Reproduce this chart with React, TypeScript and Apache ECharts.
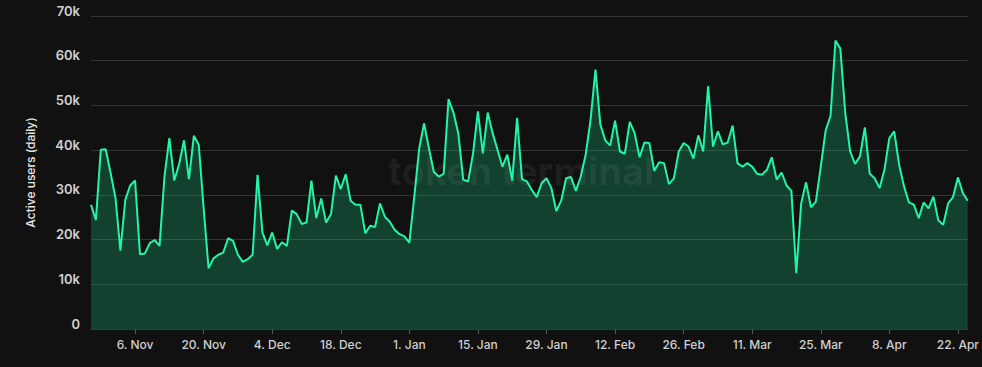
import React, { useEffect, useRef } from "react";
import * as echarts from "echarts";

// Daily active users (thousands), 28 Oct 2023 .. 24 Apr 2024
const START_DATE = "2023-10-28";
const activeUsersK: number[] = [
  27.8, 24.4, 40.1, 40.2, 34.9, 29.3, 17.5, 28.9, 32.1, 33.2,
  16.7, 16.9, 19.2, 19.9, 18.6, 34.1, 42.7, 33.2, 36.9, 42.2,
  33.5, 43.2, 41.2, 27.0, 13.6, 15.8, 16.6, 17.1, 20.3, 19.7,
  16.6, 15.0, 15.6, 16.6, 34.5, 21.6, 18.7, 21.6, 17.9, 19.4,
  18.6, 26.5, 25.7, 23.5, 23.8, 33.2, 24.8, 29.2, 23.8, 25.7,
  34.3, 31.3, 34.6, 28.7, 27.8, 27.8, 21.4, 23.1, 22.8, 28.1,
  25.1, 24.0, 22.2, 21.2, 20.7, 19.3, 29.5, 40.3, 46.0, 40.4,
  35.1, 34.1, 34.7, 51.4, 48.4, 43.7, 33.4, 33.0, 39.2, 48.7,
  39.3, 48.4, 43.8, 40.1, 36.3, 39.0, 33.2, 47.2, 33.5, 33.0,
  31.1, 29.5, 32.6, 33.7, 31.5, 26.4, 28.7, 33.7, 34.0, 30.9,
  34.1, 39.0, 46.8, 58.0, 45.7, 42.2, 41.0, 46.6, 39.7, 39.2,
  46.3, 43.8, 38.4, 41.7, 41.6, 35.4, 37.3, 37.1, 32.4, 33.7,
  39.7, 41.6, 40.8, 38.1, 43.3, 39.7, 54.3, 40.8, 44.2, 41.3,
  41.7, 45.5, 37.1, 36.3, 37.1, 36.3, 34.7, 34.5, 35.6, 38.4,
  33.4, 35.0, 32.1, 30.9, 12.5, 28.1, 32.8, 27.2, 28.5, 36.3,
  44.4, 47.7, 64.5, 62.7, 48.3, 39.7, 36.9, 38.6, 45.1, 34.7,
  33.7, 31.5, 35.6, 42.7, 44.2, 36.7, 31.9, 28.3, 27.8, 24.8,
  28.3, 27.0, 29.6, 24.3, 23.3, 28.1, 29.5, 33.9, 30.4, 28.7,
];
const MONTHS = ["Jan", "Feb", "Mar", "Apr", "May", "Jun", "Jul", "Aug", "Sep", "Oct", "Nov", "Dec"];
const yTicks = [0, 10000, 20000, 30000, 40000, 50000, 60000, 70000];
const FIRST_LABEL_INDEX = 9; // 6. Nov
const LABEL_STEP = 14;

function buildDates(): string[] {
  const out: string[] = [];
  const d0 = new Date(START_DATE + "T00:00:00Z");
  for (let i = 0; i < activeUsersK.length; i++) {
    const d = new Date(d0.getTime() + i * 86400000);
    out.push(`${d.getUTCDate()}. ${MONTHS[d.getUTCMonth()]}`);
  }
  return out;
}

export default function App() {
  const ref = useRef<HTMLDivElement>(null);
  useEffect(() => {
    if (!ref.current) return;
    const chart = echarts.init(ref.current, undefined, { renderer: "svg" });
    const dates = buildDates();
    const showIdx = (i: number) => i >= FIRST_LABEL_INDEX && (i - FIRST_LABEL_INDEX) % LABEL_STEP === 0;
    chart.setOption({
      animation: false,
      backgroundColor: "#111111",
      grid: { left: 91, right: 14, top: 16, bottom: 38 },
      graphic: [
        {
          type: "text",
          left: 388,
          top: 152,
          silent: true,
          style: {
            text: "token terminal",
            fontSize: 38,
            fontWeight: "bold",
            fontFamily: "Inter, sans-serif",
            fill: "rgba(255,255,255,0.06)",
          },
          z: 100,
        },
      ],
      xAxis: {
        type: "category",
        data: dates,
        boundaryGap: false,
        axisLine: { show: true, lineStyle: { color: "#3a3a3a" } },
        axisTick: { show: true, interval: (i: number) => showIdx(i), length: 5, lineStyle: { color: "#555" } },
        axisLabel: {
          interval: (i: number) => showIdx(i),
          color: "#d0d0d0",
          fontSize: 12,
          fontFamily: "Inter, sans-serif",
          fontWeight: 500,
          margin: 9,
        },
        splitLine: { show: false },
      },
      yAxis: {
        type: "value",
        min: yTicks[0],
        max: yTicks[yTicks.length - 1],
        interval: 10000,
        name: "Active users (daily)",
        nameLocation: "middle",
        nameRotate: 90,
        nameGap: 55,
        nameTextStyle: { color: "#e8e8e8", fontSize: 12, fontFamily: "Inter, sans-serif", fontWeight: 500 },
        axisLine: { show: false },
        axisTick: { show: false },
        axisLabel: {
          color: "#d0d0d0",
          fontSize: 13,
          fontFamily: "Inter, sans-serif",
          fontWeight: 600,
          margin: 11,
          verticalAlign: "bottom",
          lineHeight: 11,
          formatter: (v: number) => (v === 0 ? "0" : `${v / 1000}k`),
        },
        splitLine: { show: true, lineStyle: { color: "#333333", width: 1 } },
      },
      series: [
        {
          type: "line",
          data: activeUsersK.map((v) => v * 1000),
          symbol: "none",
          lineStyle: { color: "#22f5a6", width: 2 },
          areaStyle: { color: "rgba(30,240,160,0.31)" },
          itemStyle: { color: "#22f5a6" },
        },
      ],
    });
    return () => chart.dispose();
  }, []);
  return <div ref={ref} style={{ width: 982, height: 367, position: "absolute", left: 0, top: 0 }} />;
}
